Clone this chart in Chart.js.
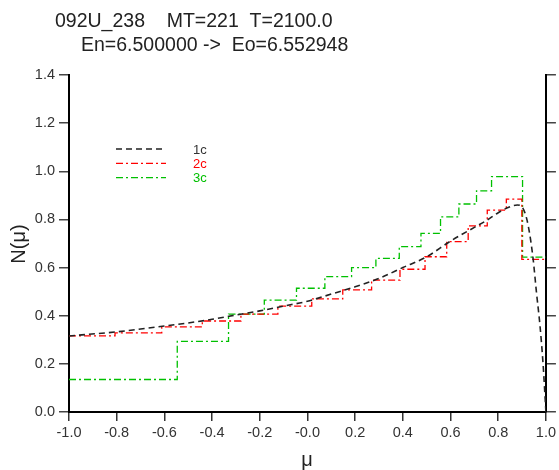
<!DOCTYPE html>
<html>
<head>
<meta charset="utf-8">
<script src="https://cdn.jsdelivr.net/npm/chart.js@4"></script>
<style>
  html, body { margin: 0; padding: 0; background: #fff; }
  #wrap { width: 559px; height: 470px; }
</style>
</head>
<body>
<div id="wrap"><canvas id="chart" width="559" height="470"></canvas></div>
<script>
// Tick labels
const xTickLabels = ['-1.0', '-0.8', '-0.6', '-0.4', '-0.2', '-0.0', '0.2', '0.4', '0.6', '0.8', '1.0'];
const yTickLabels = ['0.0', '0.2', '0.4', '0.6', '0.8', '1.0', '1.2', '1.4'];

// 1c - smooth curve (mu, N)
const mu1c = [-1.0, -0.8, -0.6, -0.5, -0.4, -0.3, -0.2, -0.1, 0.0, 0.1, 0.2, 0.3, 0.4, 0.5, 0.6, 0.7, 0.75, 0.8, 0.85, 0.88, 0.9, 0.92, 0.935, 0.947, 0.96, 0.975, 0.988, 1.0];
const n1c = [0.316, 0.333, 0.357, 0.370, 0.385, 0.403, 0.420, 0.440, 0.460, 0.490, 0.520, 0.555, 0.600, 0.645, 0.710, 0.767, 0.795, 0.828, 0.853, 0.860, 0.852, 0.800, 0.720, 0.630, 0.500, 0.360, 0.200, 0.0];

// 2c - histogram (bin edges, bin values)
const edges2c = [-1.0, -0.807, -0.611, -0.441, -0.279, -0.124, 0.018, 0.148, 0.269, 0.388, 0.493, 0.584, 0.674, 0.754, 0.834, 0.899, 1.0];
const n2c = [0.316, 0.329, 0.354, 0.378, 0.407, 0.440, 0.470, 0.507, 0.548, 0.593, 0.645, 0.708, 0.773, 0.839, 0.884, 0.634];

// 3c - histogram (bin edges, bin values)
const edges3c = [-1.0, -0.546, -0.331, -0.181, -0.046, 0.073, 0.185, 0.287, 0.385, 0.476, 0.558, 0.635, 0.709, 0.772, 0.902, 1.0];
const n3c = [0.135, 0.293, 0.407, 0.465, 0.514, 0.562, 0.600, 0.638, 0.687, 0.742, 0.811, 0.864, 0.919, 0.978, 0.643];

const legendItems = [
    { label: '1c', color: '#222222', dash: [6, 4] },
    { label: '2c', color: '#ff0000', dash: [7, 3, 2, 3] },
    { label: '3c', color: '#00c000', dash: [7, 3, 2, 3] }
];

const FONT = '"Liberation Sans", Arial, sans-serif';

function stepPoints(edges, vals) {
    return edges.map((e, i) => ({ x: e, y: vals[Math.min(i, vals.length - 1)] }));
}

// Titles, axis names and legend
const decorations = {
    id: 'decorations',
    afterDraw(chart) {
        const ctx = chart.ctx;
        ctx.save();
        ctx.fillStyle = '#222';
        ctx.textBaseline = 'alphabetic';
        ctx.textAlign = 'left';
        ctx.font = '19.5px ' + FONT;
        ctx.fillText('092U_238    MT=221  T=2100.0', 55, 27);
        ctx.fillText('En=6.500000 ->  Eo=6.552948', 81, 51);

        // axis names
        ctx.font = '20px ' + FONT;
        ctx.textAlign = 'center';
        ctx.textBaseline = 'middle';
        ctx.fillText('\u03bc', 307, 460);
        ctx.save();
        ctx.translate(19, 244);
        ctx.rotate(-Math.PI / 2);
        ctx.fillText('N(\u03bc)', 0, 0);
        ctx.restore();

        // legend
        ctx.font = '13px ' + FONT;
        ctx.textAlign = 'left';
        legendItems.forEach((item, i) => {
            const y = 149 + i * 14.3;
            ctx.strokeStyle = item.color;
            ctx.lineWidth = item.label === '1c' ? 1.5 : 1.3;
            ctx.setLineDash(item.dash);
            ctx.beginPath();
            ctx.moveTo(116, y);
            ctx.lineTo(166, y);
            ctx.stroke();
            ctx.setLineDash([]);
            ctx.fillStyle = item.label === '1c' ? '#333' : item.color;
            ctx.fillText(item.label, 193, y + 1);
        });
        ctx.restore();
    }
};

new Chart(document.getElementById('chart').getContext('2d'), {
    type: 'line',
    data: {
        datasets: [{
            label: '1c',
            data: mu1c.map((m, i) => ({ x: m, y: n1c[i] })),
            borderColor: '#222222',
            borderWidth: 1.6,
            borderDash: [6, 4],
            pointRadius: 0,
            cubicInterpolationMode: 'monotone',
            fill: false
        }, {
            label: '2c',
            data: stepPoints(edges2c, n2c),
            borderColor: '#ff0000',
            borderWidth: 1.3,
            borderDash: [7, 3, 2, 3],
            pointRadius: 0,
            stepped: 'before',
            fill: false
        }, {
            label: '3c',
            data: stepPoints(edges3c, n3c),
            borderColor: '#00c000',
            borderWidth: 1.3,
            borderDash: [7, 3, 2, 3],
            pointRadius: 0,
            stepped: 'before',
            fill: false
        }]
    },
    options: {
        responsive: false,
        animation: false,
        layout: {
            padding: { top: 75, right: 0, left: 0, bottom: 0 }
        },
        plugins: {
            legend: { display: false },
            tooltip: { enabled: false }
        },
        scales: {
            x: {
                type: 'linear',
                min: -1,
                max: 1,
                ticks: {
                    stepSize: 0.2,
                    color: '#333',
                    font: { size: 14.5, family: FONT },
                    padding: 3,
                    maxRotation: 0,
                    callback: function(value, index) {
                        return xTickLabels[index];
                    }
                },
                grid: {
                    drawOnChartArea: false,
                    drawTicks: true,
                    tickLength: 9,
                    color: '#333',
                    lineWidth: 1.5
                },
                border: { color: '#000', width: 2 },
                afterFit: function(scale) { scale.height = 58; }
            },
            y: {
                min: 0,
                max: 1.4,
                ticks: {
                    stepSize: 0.2,
                    color: '#333',
                    font: { size: 14.5, family: FONT },
                    padding: 4,
                    callback: function(value, index) {
                        return yTickLabels[index];
                    }
                },
                grid: {
                    drawOnChartArea: false,
                    drawTicks: true,
                    tickLength: 10,
                    color: '#444',
                    lineWidth: 1.5
                },
                border: { color: '#000', width: 2 },
                afterFit: function(scale) { scale.width = 69; }
            },
            y2: {
                position: 'right',
                min: 0,
                max: 1.4,
                ticks: {
                    stepSize: 0.2,
                    callback: function() { return ''; }
                },
                grid: {
                    drawOnChartArea: false,
                    drawTicks: true,
                    tickLength: 10,
                    color: '#444',
                    lineWidth: 1.5
                },
                border: { color: '#000', width: 2 },
                afterFit: function(scale) { scale.width = 13; }
            }
        }
    },
    plugins: [decorations]
});
</script>
</body>
</html>
